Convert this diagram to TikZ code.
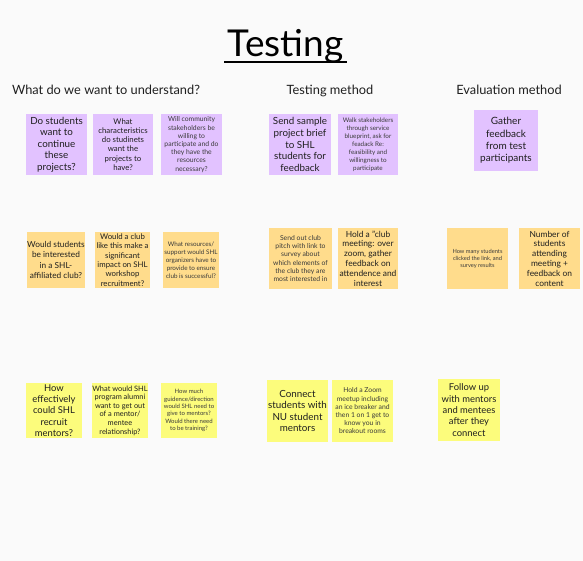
\documentclass[tikz,border=0pt]{standalone}
\usepackage{fontspec}
\setmainfont{Lato}
\definecolor{bg}{HTML}{FAFAFA}
\definecolor{purp}{HTML}{E2C2FF}
\definecolor{orng}{HTML}{FFDC8C}
\definecolor{yell}{HTML}{FCFC7C}
\definecolor{ink}{HTML}{1F1F1F}
\definecolor{inkl}{HTML}{3A3A3A}
\begin{document}
\begin{tikzpicture}[x=1pt,y=-1pt,
  note/.style={inner sep=0pt, align=center, text=ink, anchor=center},
  pnote/.style={note, fill=purp},
  onote/.style={note, fill=orng},
  ynote/.style={note, fill=yell},
  hdr/.style={inner sep=0pt, anchor=base, text=ink, font=\fontsize{12.8}{14}\selectfont},
  fA/.style={font=\fontsize{9.8}{11.6}\selectfont},
  fB/.style={font=\fontsize{7.8}{9.3}\selectfont},
  fC/.style={font=\fontsize{6.8}{8.2}\selectfont, text=inkl},
  fD/.style={font=\fontsize{6.3}{8}\selectfont, text=inkl},
  fE/.style={font=\fontsize{8.4}{9.8}\selectfont},
]
\fill[bg] (0,0) rectangle (583,561);
\useasboundingbox (0,0) rectangle (583,561);
% title
\node[inner sep=0pt, anchor=base, font=\fontsize{37}{40}\selectfont, text=black] (title) at (285.5,57) {Testing};
\draw[line width=2.2pt] (224,62) -- (347,62);
% headers
\node[hdr] (h1) at (106,95) {What do we want to understand?};
\node[hdr] (h2) at (330,95) {Testing method};
\node[hdr] (h3) at (509,95) {Evaluation method};
% row 1
\node[pnote, fA, minimum width=61pt, minimum height=61pt] (a1) at (56.5,144.5) {Do students\\want to\\continue\\these\\projects?};
\node[pnote, fB, minimum width=60pt, minimum height=61pt] (a2) at (123,144.5) {What\\characteristics\\do studinets\\want the\\projects to\\have?};
\node[pnote, fC, minimum width=61pt, minimum height=61pt] (a3) at (191.5,144.5) {Will community\\stakeholders be\\willing to\\participate and do\\they have the\\resources\\necessary?};
\node[pnote, fA, minimum width=62pt, minimum height=61pt] (b1) at (300,144.5) {Send sample\\project brief\\to SHL\\students for\\feedback};
\node[pnote, fD, minimum width=60pt, minimum height=61pt] (b2) at (368,144.5) {Walk stakeholders\\through service\\blueprint, ask for\\feadack Re:\\feasibility and\\willingness to\\participate};
\node[pnote, font=\fontsize{10}{12.3}\selectfont, minimum width=64pt, minimum height=61pt] (c1) at (506,140.5) {Gather\\feedback\\from test\\participants};
% row 2
\node[onote, font=\fontsize{8.3}{10.3}\selectfont, minimum width=56pt, minimum height=56pt] (a4) at (56,260) {Would students\\be interested\\in a SHL-\\affiliated club?};
\node[onote, fB, minimum width=55pt, minimum height=56pt] (a5) at (122.5,260) {Would a club\\like this make a\\significant\\impact on SHL\\workshop\\recruitment?};
\node[onote, fD, minimum width=56pt, minimum height=56pt] (a6) at (191,260) {What resources/\\support would SHL\\organizers have to\\provide to ensure\\club is successful?};
\node[onote, fC, minimum width=63pt, minimum height=61pt] (b3) at (300.5,258.5) {Send out club\\pitch with link to\\survey about\\which elements of\\the club they are\\most interested in};
\node[onote, fE, minimum width=60pt, minimum height=61pt] (b4) at (368,258.5) {Hold a \symbol{34}club\\meeting: over\\zoom, gather\\feedback on\\attendence and\\interest};
\node[onote, font=\fontsize{5.7}{7}\selectfont, text=inkl, minimum width=61pt, minimum height=61pt] (c2) at (477.5,258.5) {How many students\\clicked the link, and\\survey results};
\node[onote, fE, minimum width=61pt, minimum height=61pt] (c3) at (549.5,258.5) {Number of\\students\\attending\\meeting +\\feedback on\\content};
% row 3
\node[ynote, font=\fontsize{9.4}{11.2}\selectfont, minimum width=56pt, minimum height=55pt] (a7) at (54,410.5) {How\\effectively\\could SHL\\recruit\\mentors?};
\node[ynote, font=\fontsize{7.4}{8.6}\selectfont, minimum width=56pt, minimum height=55pt] (a8) at (120,410.5) {What would SHL\\program alumni\\want to get out\\of a mentor/\\mentee\\relationship?};
\node[ynote, font=\fontsize{6}{7.3}\selectfont, text=inkl, minimum width=56pt, minimum height=55pt] (a9) at (189,410.5) {How much\\guidence/direction\\would SHL need to\\give to mentors?\\Would there need\\to be training?};
\node[ynote, fA, minimum width=61pt, minimum height=62pt] (b5) at (297.5,411) {Connect\\students with\\NU student\\mentors};
\node[ynote, fC, minimum width=61pt, minimum height=62pt] (b6) at (362.5,411) {Hold a Zoom\\meetup including\\an ice breaker and\\then 1 on 1 get to\\know you in\\breakout rooms};
\node[ynote, font=\fontsize{9.4}{11.3}\selectfont, minimum width=62pt, minimum height=62pt] (c4) at (469,410) {Follow up\\with mentors\\and mentees\\after they\\connect};
\end{tikzpicture}
\end{document}
